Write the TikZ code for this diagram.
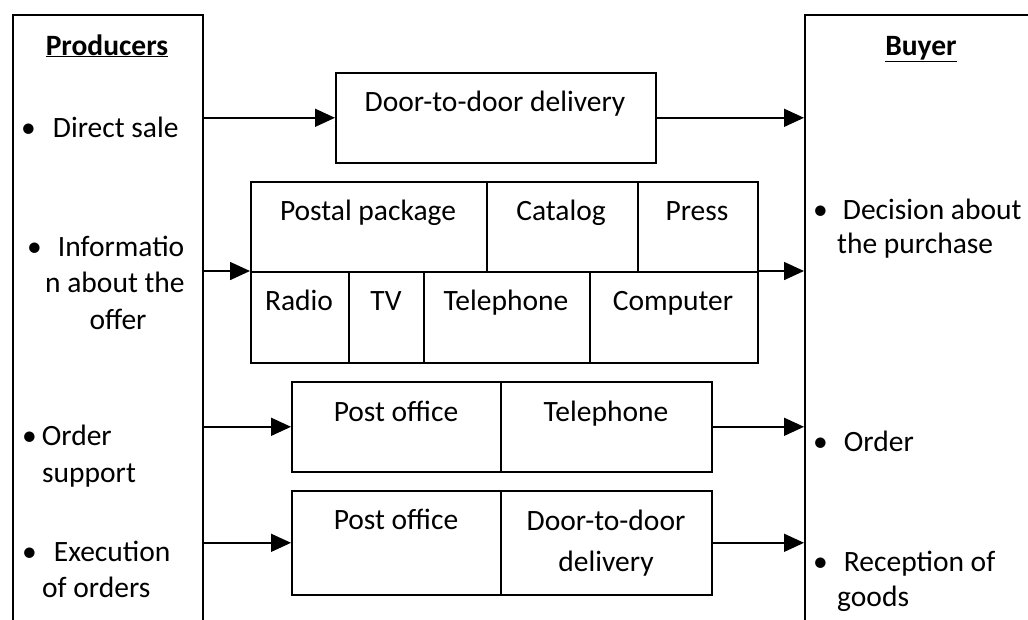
\documentclass[tikz,border=0pt]{standalone}
\usepackage{fontspec}
\setmainfont{Carlito}
\usetikzlibrary{arrows.meta}
\tikzset{
  box/.style={draw, line width=1.6pt, inner sep=0pt, anchor=north west},
  arr/.style={line width=1.6pt, -{Triangle[length=20pt,width=18pt]}},
  lbl/.style={inner sep=0pt, anchor=base, font=\fontsize{29.5}{36}\selectfont},
  lbll/.style={lbl, anchor=base west},
}
\begin{document}
\begin{tikzpicture}[x=1pt,y=-1pt]
\useasboundingbox (0,0) rectangle (1028,619);
\clip (0,0) rectangle (1028,619);

% side panels (open at the bottom / right)
\node[box, minimum width=190, minimum height=640] (prod) at (12,14) {};
\node[box, minimum width=300, minimum height=640] (buy) at (804,14) {};

% channel boxes
\node[box, minimum width=320, minimum height=90] (dd) at (335,72) {};

\node[box, minimum width=236, minimum height=90] (postal) at (250,181) {};
\node[box, minimum width=151, minimum height=90] (catalog) at (486,181) {};
\node[box, minimum width=120, minimum height=90] (press) at (637,181) {};
\node[box, minimum width=98, minimum height=91] (radio) at (250,271) {};
\node[box, minimum width=75, minimum height=91] (tv) at (348,271) {};
\node[box, minimum width=166, minimum height=91] (tel) at (423,271) {};
\node[box, minimum width=168, minimum height=91] (comp) at (589,271) {};

\node[box, minimum width=209, minimum height=90] (po1) at (291,381) {};
\node[box, minimum width=211, minimum height=90] (tel2) at (500,381) {};
\node[box, minimum width=209, minimum height=104] (po2) at (291,490) {};
\node[box, minimum width=211, minimum height=104] (dd2) at (500,490) {};

% connectors
\draw[arr] (prod.east |- dd.west) -- (dd.west);
\draw[arr] (dd.east) -- (buy.west |- dd.east);
\draw[arr] (prod.east |- radio.north west) -- (radio.north west);
\draw[arr] (comp.north east) -- (buy.west |- comp.north east);
\draw[arr] (prod.east |- po1.west) -- (po1.west);
\draw[arr] (tel2.east) -- (buy.west |- tel2.east);
\draw[arr] (prod.east |- po2.west) -- (po2.west);
\draw[arr] (dd2.east) -- (buy.west |- dd2.east);

% producer side
\node[lbl] (tprod) at (107,55) {\textbf{\underline{Producers}}};
\node[lbll] (t1) at (21,137) {•\hspace{17pt}Direct sale};
\node[lbll] (t2a) at (27,256) {•\hspace{16pt}Informatio};
\node[lbll] (t2b) at (45,292) {n about the};
\node[lbl] (t2c) at (118,329) {offer};
\node[lbll] (t3a) at (22,445) {•\hspace{5pt}Order};
\node[lbll] (t3b) at (42,482) {support};
\node[lbll] (t4a) at (22,561) {•\hspace{17pt}Execution};
\node[lbll] (t4b) at (42,597) {of orders};

% buyer side
\node[lbl] (tbuy) at (921,55) {\textbf{\underline{Buyer}}};
\node[lbll] (b1a) at (813,219) {•\hspace{15pt}Decision about};
\node[lbll] (b1b) at (837,253) {the purchase};
\node[lbll] (b2) at (813,451) {•\hspace{16pt}Order};
\node[lbll] (b3a) at (813,571) {•\hspace{16pt}Reception of};
\node[lbll] (b3b) at (837,606) {goods};

% channel labels
\node[lbl] at (495,111) {Door-to-door delivery};
\node[lbl] at (368,220) {Postal package};
\node[lbl] at (561,220) {Catalog};
\node[lbl] at (697,220) {Press};
\node[lbl] at (299,310) {Radio};
\node[lbl] at (386,310) {TV};
\node[lbl] at (506,310) {Telephone};
\node[lbl] at (673,310) {Computer};
\node[lbl] at (396,421) {Post office};
\node[lbl] at (606,421) {Telephone};
\node[lbl] at (396,529) {Post office};
\node[lbl] at (606,530) {Door-to-door};
\node[lbl] at (606,571) {delivery};
\end{tikzpicture}
\end{document}
